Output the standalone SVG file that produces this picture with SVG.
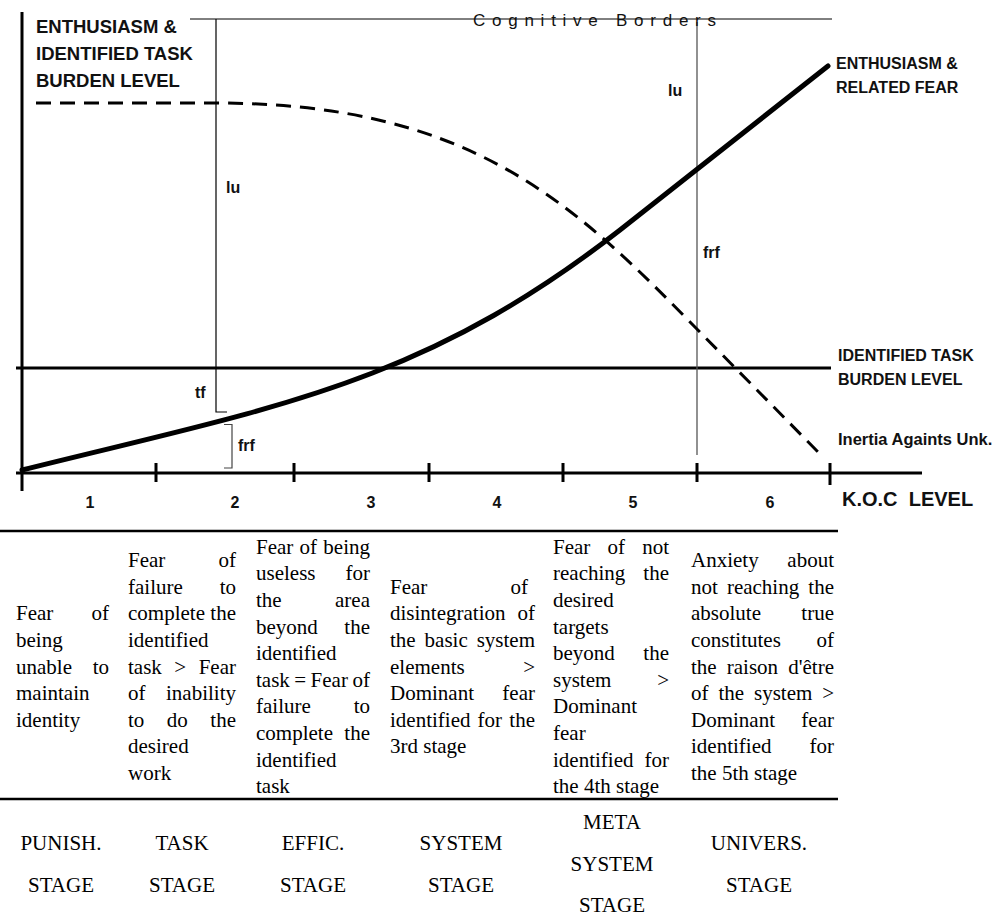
<svg xmlns="http://www.w3.org/2000/svg" width="998" height="920" viewBox="0 0 998 920">
<style>
.lbl{font-family:"Liberation Sans",Arial,sans-serif;font-weight:bold;fill:#111}
.cb{font-family:"Liberation Sans",Arial,sans-serif;font-size:17px;fill:#111}
.t{font-family:"Liberation Serif","Times New Roman",serif;font-size:21px;fill:#000}
.r{text-anchor:end}
.m{text-anchor:middle}
.ax{stroke:#000;stroke-width:3;fill:none}
.thin{stroke:#000;stroke-width:1.2;fill:none}
.rule{stroke:#000;stroke-width:2.5}
</style>
<rect width="998" height="920" fill="#fff"/>

<g id="connectors">
  <line class="ax" x1="22" y1="12" x2="22" y2="491"/>
  <line class="ax" x1="16" y1="473" x2="922" y2="473"/>
  <path class="ax" d="M156,463V482M294,463V482M429,463V482M563,463V482M697,463V482M830,463V485"/>
  <line class="ax" x1="16" y1="368" x2="831" y2="368"/>
  <line stroke="#000" stroke-width="1" x1="190" y1="19" x2="832" y2="19"/>
  <path class="thin" d="M216,19V412H227"/>
  <path stroke="#444" stroke-width="1.2" fill="none" d="M224,424.5H232V468H224"/>
  <line stroke="#555" stroke-width="1.3" x1="697" y1="22" x2="697" y2="455"/>
  <path d="M22,470 C272,407.5 420,386 620,230 L828,66" fill="none" stroke="#000" stroke-width="5" stroke-linecap="round"/>
  <path d="M36,103 H216 C466,103 570,199.6 690,322 L824,458" fill="none" stroke="#000" stroke-width="3" stroke-dasharray="15 9"/>
</g>

<g id="axis-title">
  <text class="lbl" font-size="18.5" x="36" y="33">ENTHUSIASM &amp;</text>
  <text class="lbl" font-size="18.5" x="36" y="60">IDENTIFIED TASK</text>
  <text class="lbl" font-size="18.5" x="36" y="87">BURDEN LEVEL</text>
</g>
<g id="cognitive-borders">
  <text class="cb" x="473" y="26" textLength="243" lengthAdjust="spacing">Cognitive Borders</text>
</g>
<g id="label-enthusiasm">
  <text class="lbl" font-size="16" x="836" y="69">ENTHUSIASM &amp;</text>
  <text class="lbl" font-size="16" x="836" y="93">RELATED FEAR</text>
</g>
<g id="label-burden">
  <text class="lbl" font-size="16" x="838" y="361">IDENTIFIED TASK</text>
  <text class="lbl" font-size="16" x="838" y="385">BURDEN LEVEL</text>
</g>
<g id="label-inertia">
  <text class="lbl" font-size="16.5" x="838" y="445">Inertia Againts Unk.</text>
</g>
<g id="label-koc">
  <text class="lbl" font-size="20" x="842" y="506" xml:space="preserve">K.O.C  LEVEL</text>
</g>
<g id="measures">
  <text class="lbl" font-size="16" x="226" y="193">lu</text>
  <text class="lbl" font-size="16" x="668" y="96">lu</text>
  <text class="lbl" font-size="16" x="703" y="258">frf</text>
  <text class="lbl" font-size="16" x="195" y="398">tf</text>
  <text class="lbl" font-size="16" x="238" y="451">frf</text>
</g>
<g id="levels">
  <text class="lbl m" font-size="16" x="90" y="508">1</text>
  <text class="lbl m" font-size="16" x="235" y="508">2</text>
  <text class="lbl m" font-size="16" x="371" y="508">3</text>
  <text class="lbl m" font-size="16" x="497" y="508">4</text>
  <text class="lbl m" font-size="16" x="633" y="508">5</text>
  <text class="lbl m" font-size="16" x="770" y="508">6</text>
</g>

<g id="table-rules">
  <line class="rule" x1="0" y1="531" x2="838" y2="531"/>
  <line class="rule" x1="0" y1="799" x2="838" y2="799"/>
</g>

<g id="fear-1" class="t">
  <text x="16" y="620.3">Fear</text><text class="r" x="109" y="620.3">of</text>
  <text x="16" y="646.9">being</text>
  <text x="16" y="673.5">unable</text><text class="r" x="109" y="673.5">to</text>
  <text x="16" y="700.1">maintain</text>
  <text x="16" y="726.7">identity</text>
</g>
<g id="fear-2" class="t">
  <text x="128" y="567.1">Fear</text><text class="r" x="236" y="567.1">of</text>
  <text x="128" y="593.7">failure</text><text class="r" x="236" y="593.7">to</text>
  <text x="128" y="620.3">complete</text><text class="r" x="236" y="620.3">the</text>
  <text x="128" y="646.9">identified</text>
  <text x="128" y="673.5">task</text><text x="174.3" y="673.5">&gt;</text><text class="r" x="236" y="673.5">Fear</text>
  <text x="128" y="700.1">of</text><text class="r" x="236" y="700.1">inability</text>
  <text x="128" y="726.7">to</text><text x="166.8" y="726.7">do</text><text class="r" x="236" y="726.7">the</text>
  <text x="128" y="753.3">desired</text>
  <text x="128" y="779.9">work</text>
</g>
<g id="fear-3" class="t">
  <text x="256" y="553.8">Fear</text><text x="299.5" y="553.8">of</text><text class="r" x="370" y="553.8">being</text>
  <text x="256" y="580.4">useless</text><text class="r" x="370" y="580.4">for</text>
  <text x="256" y="607">the</text><text class="r" x="370" y="607">area</text>
  <text x="256" y="633.6">beyond</text><text class="r" x="370" y="633.6">the</text>
  <text x="256" y="660.2">identified</text>
  <text x="256" y="686.8">task</text><text x="294.3" y="686.8">=</text><text x="310.6" y="686.8">Fear</text><text class="r" x="370" y="686.8">of</text>
  <text x="256" y="713.4">failure</text><text class="r" x="370" y="713.4">to</text>
  <text x="256" y="740">complete</text><text class="r" x="370" y="740">the</text>
  <text x="256" y="766.6">identified</text>
  <text x="256" y="793.2">task</text>
</g>
<g id="fear-4" class="t">
  <text x="390" y="593.7">Fear</text><text class="r" x="528" y="593.7">of</text>
  <text x="390" y="620.3">disintegration</text><text class="r" x="535" y="620.3">of</text>
  <text x="390" y="646.9">the</text><text x="424.6" y="646.9">basic</text><text class="r" x="535" y="646.9">system</text>
  <text x="390" y="673.5">elements</text><text class="r" x="535" y="673.5">&gt;</text>
  <text x="390" y="700.1">Dominant</text><text class="r" x="535" y="700.1">fear</text>
  <text x="390" y="726.7">identified</text><text x="477.6" y="726.7">for</text><text class="r" x="535" y="726.7">the</text>
  <text x="390" y="753.3">3rd stage</text>
</g>
<g id="fear-5" class="t">
  <text x="553" y="553.8">Fear</text><text x="607.5" y="553.8">of</text><text class="r" x="669" y="553.8">not</text>
  <text x="553" y="580.4">reaching</text><text class="r" x="669" y="580.4">the</text>
  <text x="553" y="607">desired</text>
  <text x="553" y="633.6">targets</text>
  <text x="553" y="660.2">beyond</text><text class="r" x="669" y="660.2">the</text>
  <text x="553" y="686.8">system</text><text class="r" x="669" y="686.8">&gt;</text>
  <text x="553" y="713.4">Dominant</text>
  <text x="553" y="740">fear</text>
  <text x="553" y="766.6">identified</text><text class="r" x="669" y="766.6">for</text>
  <text x="553" y="793.2">the 4th stage</text>
</g>
<g id="fear-6" class="t">
  <text x="691" y="567.1">Anxiety</text><text class="r" x="834" y="567.1">about</text>
  <text x="691" y="593.7">not</text><text x="726.9" y="593.7">reaching</text><text class="r" x="834" y="593.7">the</text>
  <text x="691" y="620.3">absolute</text><text class="r" x="834" y="620.3">true</text>
  <text x="691" y="646.9">constitutes</text><text class="r" x="834" y="646.9">of</text>
  <text x="691" y="673.5">the</text><text x="726.8" y="673.5">raison</text><text class="r" x="834" y="673.5">d'être</text>
  <text x="691" y="700.1">of</text><text x="718.4" y="700.1">the</text><text x="754" y="700.1">system</text><text class="r" x="834" y="700.1">&gt;</text>
  <text x="691" y="726.7">Dominant</text><text class="r" x="834" y="726.7">fear</text>
  <text x="691" y="753.3">identified</text><text class="r" x="834" y="753.3">for</text>
  <text x="691" y="779.9">the 5th stage</text>
</g>

<g id="stage-1" class="t m"><text x="61" y="850">PUNISH.</text><text x="61" y="892">STAGE</text></g>
<g id="stage-2" class="t m"><text x="182" y="850">TASK</text><text x="182" y="892">STAGE</text></g>
<g id="stage-3" class="t m"><text x="313" y="850">EFFIC.</text><text x="313" y="892">STAGE</text></g>
<g id="stage-4" class="t m"><text x="461" y="850">SYSTEM</text><text x="461" y="892">STAGE</text></g>
<g id="stage-5" class="t m"><text x="612" y="829">META</text><text x="612" y="871">SYSTEM</text><text x="612" y="912">STAGE</text></g>
<g id="stage-6" class="t m"><text x="759" y="850">UNIVERS.</text><text x="759" y="892">STAGE</text></g>
</svg>
